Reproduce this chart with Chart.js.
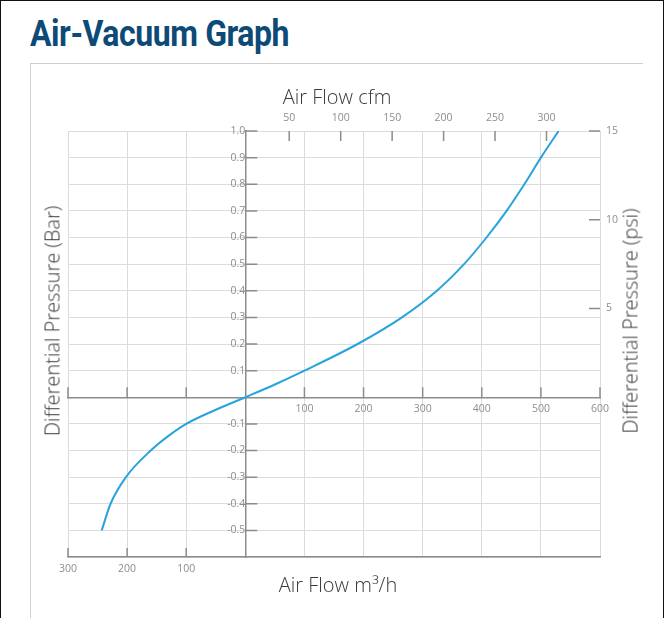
<!DOCTYPE html>
<html>
<head>
<meta charset="utf-8">
<script src="https://cdn.jsdelivr.net/npm/chart.js@4.4.0/dist/chart.umd.min.js"></script>
<style>
  html, body { margin: 0; padding: 0; }
  body { width: 664px; height: 618px; position: relative; overflow: hidden; background: #fff; font-family: 'Open Sans', sans-serif; }
  #frame { position: absolute; left: 0; top: 0; width: 664px; height: 618px; box-sizing: border-box; border: 1px solid #111; border-bottom: none; }
  #panel { position: absolute; left: 30px; top: 63px; width: 612px; height: 560px; border-left: 1px solid #cfcfcf; border-top: 1px solid #cfcfcf; }
  h1 { position: absolute; left: 30px; top: 13px; margin: 0; font-family: Roboto, sans-serif; font-weight: 700; font-size: 36px; line-height: 42px; color: #0d4a78; letter-spacing: -0.5px; transform: scaleX(0.89); transform-origin: left center; white-space: nowrap; }
  #wrap { position: absolute; left: 0; top: 0; width: 664px; height: 618px; }
  .title { position: absolute; font-size: 20px; font-weight: 300; color: #3a3a3a; white-space: nowrap; transform: translate(-50%, -50%); }
  .title.rot { transform: translate(-50%, -50%) rotate(-90deg); }
</style>
</head>
<body>
<div id="frame"></div>
<div id="panel"></div>
<h1>Air-Vacuum Graph</h1>
<div id="wrap"><canvas id="chart"></canvas></div>
<div class="title" style="left:337px; top:96px">Air Flow cfm</div>
<div class="title" style="left:338px; top:584px">Air Flow m³/h</div>
<div class="title rot" style="left:52px; top:321px">Differential Pressure (Bar)</div>
<div class="title rot" style="left:630px; top:321px">Differential Pressure (psi)</div>
<script>
// curve: air flow (m3/h, negative = vacuum side) vs pressure (bar)
const flowM3h = [-243, -228, -202, -160, -130, -100, -50, 0, 50, 100, 190, 265, 324, 370, 408, 442, 472, 500, 530]
const pressureBar = [-0.5, -0.4, -0.3, -0.2, -0.145, -0.1, -0.047, 0, 0.048, 0.1, 0.2, 0.3, 0.4, 0.5, 0.6, 0.7, 0.8, 0.9, 1.0]

const flowTicks = [-300, -200, -100, 100, 200, 300, 400, 500, 600]
const negFlowTicks = [-300, -200, -100]
const cfmTicks = [50, 100, 150, 200, 250, 300]
const psiTicks = [5, 10, 15]
const barTicks = [-0.5, -0.4, -0.3, -0.2, -0.1, 0.1, 0.2, 0.3, 0.4, 0.5, 0.6, 0.7, 0.8, 0.9, 1.0]

const AXIS = '#8c8c8c'
const GRID = '#dcdcdc'
const LABEL = '#8d8d8d'
const tickFont = { family: "'Open Sans', sans-serif", size: 10.5 }

// short tick marks drawn inside the plot, the way the original does it
const innerTicks = {
  id: 'innerTicks',
  beforeDatasetsDraw(chart) {
    const { ctx, chartArea, scales } = chart
    const x0 = scales.x.getPixelForValue(0)
    const y0 = scales.y.getPixelForValue(0)
    ctx.save()
    ctx.strokeStyle = AXIS
    ctx.lineWidth = 1.5
    ctx.beginPath()
    barTicks.forEach(function(v) {
      const y = scales.y.getPixelForValue(v)
      ctx.moveTo(x0, y)
      ctx.lineTo(x0 + 12, y)
    })
    flowTicks.forEach(function(v) {
      const x = scales.x.getPixelForValue(v)
      ctx.moveTo(x, y0)
      ctx.lineTo(x, y0 - 10)
    })
    negFlowTicks.forEach(function(v) {
      const x = scales.x.getPixelForValue(v)
      ctx.moveTo(x, chartArea.bottom)
      ctx.lineTo(x, chartArea.bottom - 9)
    })
    cfmTicks.forEach(function(v) {
      const x = scales.xCfm.getPixelForValue(v)
      ctx.moveTo(x, chartArea.top)
      ctx.lineTo(x, chartArea.top + 10)
    })
    psiTicks.forEach(function(v) {
      const y = scales.yPsi.getPixelForValue(v)
      ctx.moveTo(chartArea.right, y)
      ctx.lineTo(chartArea.right - 11, y)
    })
    ctx.stroke()
    ctx.restore()
  }
}

const points = flowM3h.map(function(x, i) {
  return { x: x, y: pressureBar[i] }
})

new Chart(document.getElementById('chart'), {
  type: 'line',
  data: {
    datasets: [{
      data: points,
      borderColor: '#27a4dd',
      borderWidth: 2,
      pointRadius: 0,
      cubicInterpolationMode: 'monotone',
      fill: false
    }]
  },
  options: {
    responsive: true,
    maintainAspectRatio: false,
    animation: false,
    layout: { padding: { left: 68 } },
    plugins: { legend: { display: false }, tooltip: { enabled: false } },
    scales: {
      x: {
        type: 'linear',
        position: { y: 0 },
        min: -300,
        max: 600,
        ticks: {
          stepSize: 100,
          autoSkip: false,
          maxRotation: 0,
          padding: 5,
          color: LABEL,
          font: tickFont,
          callback: function(v) { return v > 0 ? v : '' }
        },
        grid: { color: GRID, drawTicks: false },
        border: { color: AXIS, width: 1.5 }
      },
      xNeg: {
        type: 'linear',
        position: 'bottom',
        min: -300,
        max: 600,
        ticks: {
          stepSize: 100,
          autoSkip: false,
          maxRotation: 0,
          padding: 6,
          color: LABEL,
          font: tickFont,
          callback: function(v) { return v < 0 ? -v : '' }
        },
        grid: { display: false, drawTicks: false },
        border: { color: AXIS, width: 1.5 },
        afterFit: function(s) { s.height = 61 }
      },
      xCfm: {
        type: 'linear',
        position: 'top',
        min: -165,
        max: 352,
        afterBuildTicks: function(s) { s.ticks = cfmTicks.map(function(v) { return { value: v } }) },
        ticks: { autoSkip: false, maxRotation: 0, padding: 7, color: LABEL, font: tickFont },
        grid: { display: false, drawTicks: false },
        border: { display: false },
        afterFit: function(s) { s.height = 131 }
      },
      y: {
        type: 'linear',
        position: { x: 0 },
        min: -0.6,
        max: 1.0,
        ticks: {
          stepSize: 0.1,
          autoSkip: false,
          padding: 4,
          color: LABEL,
          font: tickFont,
          callback: function(value) {
            const v = Math.round(value * 10) / 10
            if (v === 0 || v <= -0.6) return ''
            return v.toFixed(1)
          }
        },
        grid: { color: GRID, drawTicks: false },
        border: { color: AXIS, width: 1.5 }
      },
      yPsi: {
        type: 'linear',
        position: 'right',
        min: -9,
        max: 15,
        afterBuildTicks: function(s) { s.ticks = psiTicks.map(function(v) { return { value: v } }) },
        ticks: { autoSkip: false, padding: 6, color: LABEL, font: tickFont },
        grid: { display: false, drawTicks: false },
        border: { display: false },
        afterFit: function(s) { s.width = 64 }
      }
    }
  },
  plugins: [innerTicks]
})
</script>
</body>
</html>
